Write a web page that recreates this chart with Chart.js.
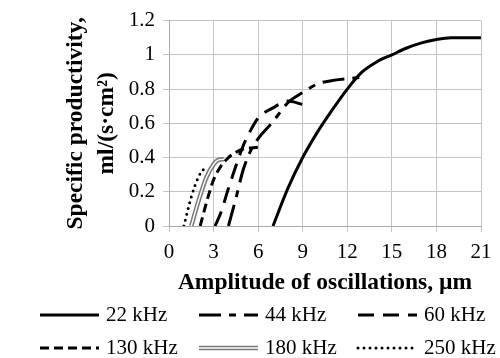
<!DOCTYPE html>
<html>
<head>
<meta charset="utf-8">
<script src="https://cdn.jsdelivr.net/npm/chart.js@4"></script>
<style>
html, body { margin: 0; padding: 0; background: #fff; }
</style>
</head>
<body>
<canvas id="grafica" width="500" height="358"></canvas>
<script>
// amplitude (µm) and specific productivity ml/(s·cm²)
const amp22 = [7, 8, 9, 10, 11, 12, 13, 14, 15, 16, 17, 18, 19, 20, 21];
const prod22 = [0, 0.22, 0.4, 0.55, 0.68, 0.8, 0.9, 0.96, 1.0, 1.04, 1.07, 1.09, 1.1, 1.1, 1.1];
const amp44 = [4, 4.5, 5, 5.5, 6, 7, 8, 9, 10, 11, 12, 13];
const prod44 = [0, 0.16, 0.33, 0.44, 0.51, 0.61, 0.72, 0.78, 0.83, 0.85, 0.86, 0.87];
const amp60 = [3.1, 3.5, 4, 4.5, 5, 5.5, 6, 7, 8, 9];
const prod60 = [0, 0.08, 0.22, 0.35, 0.47, 0.56, 0.63, 0.69, 0.73, 0.71];
const amp130 = [2.1, 2.5, 3, 3.5, 4, 4.5, 5, 6];
const prod130 = [0, 0.13, 0.27, 0.35, 0.4, 0.43, 0.45, 0.46];
const amp180 = [1.5, 2, 2.5, 3, 3.3, 3.7];
const prod180 = [0, 0.15, 0.28, 0.36, 0.385, 0.39];
const amp250 = [1, 1.5, 2, 2.4];
const prod250 = [0, 0.17, 0.29, 0.34];

const etiquetas = ["22 kHz", "44 kHz", "60 kHz", "130 kHz", "180 kHz", "250 kHz"];
const xTicks = [0, 3, 6, 9, 12, 15, 18, 21];
const yTicks = [0, 0.2, 0.4, 0.6, 0.8, 1, 1.2];

function puntos(xs, ys) {
    return xs.map((x, i) => ({ x: x, y: ys[i] }));
}

function serie(label, xs, ys, extra) {
    return Object.assign({
        label: label,
        data: puntos(xs, ys),
        borderColor: "#000",
        borderWidth: 3,
        pointRadius: 0,
        fill: false,
        cubicInterpolationMode: "monotone",
        order: 2
    }, extra);
}

const datasets = [
    serie(etiquetas[0], amp22, prod22, {}),
    serie(etiquetas[1], amp44, prod44, { borderDash: [22, 8, 7, 8] }),
    serie(etiquetas[2], amp60, prod60, { borderDash: [16, 9] }),
    serie(etiquetas[3], amp130, prod130, { borderDash: [9, 5] }),
    serie(etiquetas[4], amp180, prod180, { borderColor: "#7a7a7a", borderWidth: 4.5, order: 1 }),
    serie(etiquetas[5], amp250, prod250, { borderDash: [0, 6], borderCapStyle: "round", borderWidth: 3 }),
    // white core of the double line
    serie("", amp180, prod180, { borderColor: "#fff", borderWidth: 1.4, order: 0 })
];

// legend in three fixed columns, as in the picture
const leyenda = {
    id: "leyenda",
    afterDraw(chart) {
        const ctx = chart.ctx;
        ctx.save();
        ctx.font = "21px 'Liberation Serif'";
        ctx.fillStyle = "#000";
        ctx.textBaseline = "middle";
        for (let i = 0; i < 6; i++) {
            const ds = chart.data.datasets[i];
            const x0 = 40 + (i % 3) * 159;
            const y = 315 + Math.floor(i / 3) * 33;
            const capas = i === 4 ? [ds, chart.data.datasets[6]] : [ds];
            capas.forEach(d => {
                ctx.beginPath();
                ctx.strokeStyle = d.borderColor;
                ctx.lineWidth = d.borderWidth;
                ctx.setLineDash(d.borderDash || []);
                ctx.lineCap = d.borderCapStyle || "butt";
                ctx.moveTo(x0, y);
                ctx.lineTo(x0 + 59, y);
                ctx.stroke();
            });
            ctx.setLineDash([]);
            ctx.fillText(ds.label, x0 + 66, y);
        }
        ctx.restore();
    }
};

new Chart(document.getElementById("grafica"), {
    type: "line",
    data: { datasets: datasets },
    options: {
        responsive: false,
        animation: false,
        layout: { padding: { left: 60, right: 19, top: 18, bottom: 61 } },
        plugins: { legend: { display: false }, tooltip: { enabled: false } },
        scales: {
            x: {
                type: "linear",
                min: 0,
                max: 21,
                afterBuildTicks: s => { s.ticks = xTicks.map(v => ({ value: v })); },
                afterFit: s => { s.height = 71; },
                grid: { color: "#c4c4c4", tickLength: 6 },
                border: { color: "#a8a8a8" },
                ticks: { color: "#000", padding: 8, font: { family: "'Liberation Serif'", size: 21 } },
                title: {
                    display: true,
                    text: "Amplitude of oscillations, µm",
                    color: "#000",
                    padding: 0,
                    font: { family: "'Liberation Serif'", size: 23.5, weight: "bold" }
                }
            },
            y: {
                min: 0,
                max: 1.2,
                afterBuildTicks: s => { s.ticks = yTicks.map(v => ({ value: v })); },
                afterFit: s => { s.width = 109; },
                grid: { color: "#c4c4c4", tickLength: 6 },
                border: { color: "#a8a8a8" },
                ticks: {
                    color: "#000",
                    padding: 8,
                    font: { family: "'Liberation Serif'", size: 21 },
                    callback: v => String(+v.toFixed(2))
                },
                title: {
                    display: true,
                    text: ["Specific productivity,", "ml/(s·cm²)"],
                    color: "#000",
                    padding: 0,
                    font: { family: "'Liberation Serif'", size: 23.5, weight: "bold", lineHeight: 1.32 }
                }
            }
        }
    },
    plugins: [leyenda]
});
</script>
</body>
</html>
